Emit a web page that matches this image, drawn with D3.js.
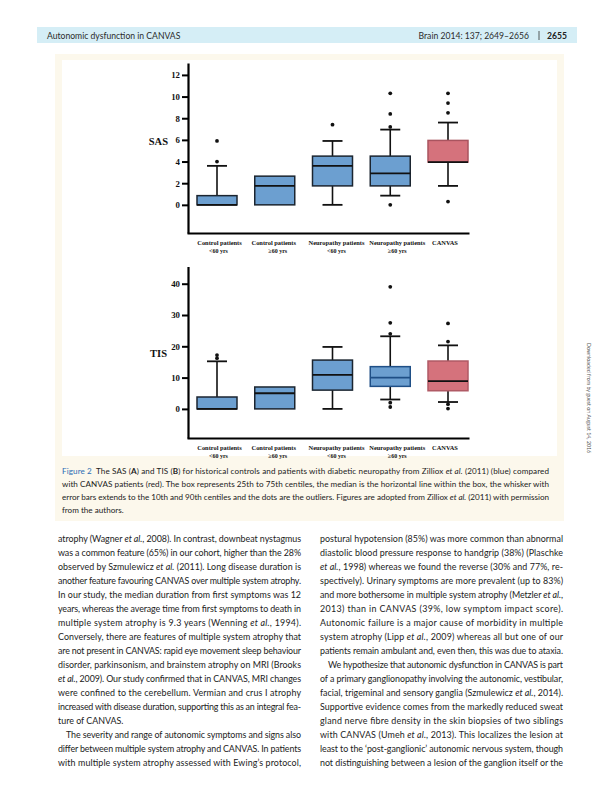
<!DOCTYPE html>
<html>
<head>
<meta charset="utf-8">
<script src="https://cdn.jsdelivr.net/npm/d3@7"></script>
<style>
  body { margin: 0; background: #fff; }
  svg { display: block; }
</style>
</head>
<body>
<script>
// data
//=======================
var groupLine1 = ["Control patients", "Control patients", "Neuropathy patients", "Neuropathy patients", "CANVAS"];
var groupLine2 = ["<60 yrs", "\u226560 yrs", "<60 yrs", "\u226560 yrs", ""];
var groupKind = ["ctrl", "ctrl", "neuro", "neuro", "canvas"];

// panel A: SAS
var sasQ1 = [0, 0, 1.75, 1.75, 3.95];
var sasMedian = [0, 1.75, 3.6, 2.9, 3.95];
var sasQ3 = [0.85, 2.65, 4.5, 4.5, 5.95];
var sasLow = [0, 0, 0, 0.85, 1.75];
var sasHigh = [3.6, 2.65, 5.9, 6.95, 7.6];
var sasOutliers = [[4.0, 5.9], [], [7.4], [0, 7.2, 8.4, 10.3], [0.3, 8.5, 9.4, 10.3]];
var sasTicks = [0, 2, 4, 6, 8, 10, 12];

// panel B: TIS
var tisQ1 = [0, 0, 6, 7.2, 5.8];
var tisMedian = [0, 5, 10.9, 10, 8.9];
var tisQ3 = [3.8, 7, 15.6, 13.5, 15.3];
var tisLow = [0, 0, 0, 3, 2.2];
var tisHigh = [15.2, 7, 19.8, 23.2, 20.3];
var tisOutliers = [[16.2, 17.2], [], [], [0.6, 2.0, 24, 27.5, 39], [0.1, 1.5, 21.5, 27.3]];
var tisTicks = [0, 10, 20, 30, 40];

// page text
var leftLines = [
  "atrophy (Wagner *et al.*, 2008). In contrast, downbeat nystagmus",
  "was a common feature (65%) in our cohort, higher than the 28%",
  "observed by Szmulewicz *et al.* (2011). Long disease duration is",
  "another feature favouring CANVAS over multiple system atrophy.",
  "In our study, the median duration from first symptoms was 12",
  "years, whereas the average time from first symptoms to death in",
  "multiple system atrophy is 9.3 years (Wenning *et al.*, 1994).",
  "Conversely, there are features of multiple system atrophy that",
  "are not present in CANVAS: rapid eye movement sleep behaviour",
  "disorder, parkinsonism, and brainstem atrophy on MRI (Brooks",
  "*et al.*, 2009). Our study confirmed that in CANVAS, MRI changes",
  "were confined to the cerebellum. Vermian and crus I atrophy",
  "increased with disease duration, supporting this as an integral fea-",
  "ture of CANVAS.",
  ">The severity and range of autonomic symptoms and signs also",
  "differ between multiple system atrophy and CANVAS. In patients",
  "with multiple system atrophy assessed with Ewing\u2019s protocol,"
];
var rightLines = [
  "postural hypotension (85%) was more common than abnormal",
  "diastolic blood pressure response to handgrip (38%) (Plaschke",
  "*et al.*, 1998) whereas we found the reverse (30% and 77%, re-",
  "spectively). Urinary symptoms are more prevalent (up to 83%)",
  "and more bothersome in multiple system atrophy (Metzler *et al.*,",
  "2013) than in CANVAS (39%, low symptom impact score).",
  "Autonomic failure is a major cause of morbidity in multiple",
  "system atrophy (Lipp *et al.*, 2009) whereas all but one of our",
  "patients remain ambulant and, even then, this was due to ataxia.",
  ">We hypothesize that autonomic dysfunction in CANVAS is part",
  "of a primary ganglionopathy involving the autonomic, vestibular,",
  "facial, trigeminal and sensory ganglia (Szmulewicz *et al.*, 2014).",
  "Supportive evidence comes from the markedly reduced sweat",
  "gland nerve fibre density in the skin biopsies of two siblings",
  "with CANVAS (Umeh *et al.*, 2013). This localizes the lesion at",
  "least to the \u2018post-ganglionic\u2019 autonomic nervous system, though",
  "not distinguishing between a lesion of the ganglion itself or the"
];
var captionLines = [
  "{Figure 2}\u2002The SAS (**A**) and TIS (**B**) for historical controls and patients with diabetic neuropathy from Zilliox *et al.* (2011) (blue) compared",
  "with CANVAS patients (red). The box represents 25th to 75th centiles, the median is the horizontal line within the box, the whisker with",
  "error bars extends to the 10th and 90th centiles and the dots are the outliers. Figures are adopted from Zilliox *et al.* (2011) with permission",
  "from the authors."
];

// setup SVG area
//=======================
var svgWidth = 613, svgHeight = 791;
var svg = d3.select("body").append("svg")
    .attr("width", svgWidth)
    .attr("height", svgHeight);

var sans = "Lato, 'Open Sans', sans-serif";
var serif = "'Liberation Serif', 'Times New Roman', serif";

// running header
svg.append("rect").attr("x", 37).attr("y", 27).attr("width", 540).attr("height", 16).attr("fill", "#d5eef6");
svg.append("text").attr("x", 47).attr("y", 38.5).attr("font-family", sans).attr("font-size", 8.6)
    .attr("fill", "#2b2b2b").text("Autonomic dysfunction in CANVAS");
svg.append("text").attr("x", 529).attr("y", 38.5).attr("text-anchor", "end").attr("font-family", sans)
    .attr("font-size", 8.6).attr("fill", "#2b2b2b").text("Brain 2014: 137; 2649\u20132656");
svg.append("line").attr("x1", 539).attr("x2", 539).attr("y1", 31).attr("y2", 40).attr("stroke", "#333").attr("stroke-width", 0.8);
svg.append("text").attr("x", 567).attr("y", 38.5).attr("text-anchor", "end").attr("font-family", sans)
    .attr("font-size", 8.6).attr("font-weight", "bold").attr("fill", "#222").text("2655");

// figure panel
svg.append("rect").attr("x", 55).attr("y", 54).attr("width", 509).attr("height", 467).attr("fill", "#fcf8ec");
svg.append("rect").attr("x", 62).attr("y", 60).attr("width", 495).attr("height", 396).attr("fill", "#fff");

// side stamp
svg.append("text").attr("transform", "translate(587,343) rotate(90)")
    .attr("font-family", sans).attr("font-size", 5.3).attr("fill", "#555")
    .text("Downloaded from by guest on August 14, 2016");

// box plot panels
//=======================
var fills = { ctrl: "#6c9fd0", neuro: "#6c9fd0", canvas: "#d5727c" };
// small nudges so the category captions sit like in the original
var labShift1 = [2.5, -1, 4, 7, -3];
var labShift2 = [1.5, 3, 4, 7, 0];

function drawPanel(p) {
  var y = d3.scaleLinear().domain(p.domain).range(p.range);
  var x = d3.scalePoint().domain(d3.range(groupKind.length)).range([217, 448]);
  var boxW = 40, capW = 20;
  var g = svg.append("g");

  // y axis
  var ya = g.append("g").attr("transform", "translate(188,0)")
      .call(d3.axisLeft(y).tickValues(p.ticks).tickSize(6).tickSizeOuter(0).tickPadding(2));
  ya.select(".domain").attr("stroke-width", 2.2);
  ya.selectAll(".tick line").attr("stroke-width", 2);
  ya.selectAll(".tick text").attr("font-family", serif).attr("font-weight", "bold")
      .attr("font-size", 8.8).attr("fill", "#111");

  // x axis
  var xa = g.append("g").attr("transform", "translate(0," + p.range[0] + ")")
      .call(d3.axisBottom(d3.scaleLinear().range([187, 469])).tickValues([]).tickSizeOuter(0));
  xa.select(".domain").attr("stroke-width", 2.2);

  g.append("text").attr("x", p.labelX).attr("y", p.labelY).attr("text-anchor", "end")
      .attr("font-family", serif).attr("font-weight", "bold").attr("font-size", 10.5)
      .attr("fill", "#111").text(p.label);

  var items = d3.range(groupKind.length);
  var boxes = g.selectAll(".box").data(items).join("g").attr("class", "box");

  // whiskers
  boxes.each(function(i) {
    var b = d3.select(this), cx = x(i);
    var segs = [];
    if (p.high[i] > p.q3[i]) segs.push([p.q3[i], p.high[i]]);
    if (p.low[i] < p.q1[i]) segs.push([p.q1[i], p.low[i]]);
    segs.forEach(function(s) {
      b.append("line").attr("x1", cx).attr("x2", cx).attr("y1", y(s[0])).attr("y2", y(s[1]))
          .attr("stroke", "#111").attr("stroke-width", 1.6);
      b.append("line").attr("x1", cx - capW / 2).attr("x2", cx + capW / 2)
          .attr("y1", y(s[1])).attr("y2", y(s[1])).attr("stroke", "#111").attr("stroke-width", 1.8);
    });
  });

  boxes.append("rect")
      .attr("x", function(i) { return x(i) - boxW / 2; })
      .attr("y", function(i) { return y(p.q3[i]); })
      .attr("width", boxW)
      .attr("height", function(i) { return y(p.q1[i]) - y(p.q3[i]); })
      .attr("fill", function(i) { return fills[groupKind[i]]; })
      .attr("stroke", function(i) { return p.stroke[i]; })
      .attr("stroke-width", 1.5);

  boxes.append("line")
      .attr("x1", function(i) { return x(i) - boxW / 2; })
      .attr("x2", function(i) { return x(i) + boxW / 2; })
      .attr("y1", function(i) { return y(p.median[i]); })
      .attr("y2", function(i) { return y(p.median[i]); })
      .attr("stroke", function(i) { return p.medianStroke[i]; })
      .attr("stroke-width", 1.8);

  boxes.selectAll("circle")
      .data(function(i) { return p.outliers[i].map(function(v) { return { i: i, v: v }; }); })
      .join("circle")
      .attr("cx", function(d) { return x(d.i); })
      .attr("cy", function(d) { return y(d.v); })
      .attr("r", 1.9)
      .attr("fill", "#111");

  // category labels
  var lab = g.selectAll(".cat").data(items).join("text").attr("class", "cat")
      .attr("x", function(i) { return x(i) + labShift1[i]; })
      .attr("y", p.range[0] + 12)
      .attr("text-anchor", "middle")
      .attr("font-family", serif).attr("font-weight", "bold").attr("font-size", 6.4).attr("fill", "#111");
  lab.append("tspan").text(function(i) { return groupLine1[i]; });
  lab.append("tspan").attr("x", function(i) { return x(i) + labShift2[i]; }).attr("dy", 8)
      .attr("font-size", 6)
      .text(function(i) { return groupLine2[i]; });
}

drawPanel({
  label: "SAS", labelX: 168, labelY: 145, domain: [-2.6, 13.1], range: [233, 63], ticks: sasTicks,
  q1: sasQ1, median: sasMedian, q3: sasQ3, low: sasLow, high: sasHigh, outliers: sasOutliers,
  stroke: ["#1b2530", "#1b2530", "#1b2530", "#1b2530", "#a9545f"],
  medianStroke: ["#111", "#111", "#111", "#111", "#111"]
});
drawPanel({
  label: "TIS", labelX: 167, labelY: 357, domain: [-9.3, 45.5], range: [438, 266.5], ticks: tisTicks,
  q1: tisQ1, median: tisMedian, q3: tisQ3, low: tisLow, high: tisHigh, outliers: tisOutliers,
  stroke: ["#1b2530", "#1b2530", "#1b2530", "#1f4f86", "#b05a65"],
  medianStroke: ["#111", "#111", "#111", "#1f4f86", "#111"]
});

// text blocks
//=======================
function richLine(sel, str, opts) {
  var t = sel.append("text").attr("x", opts.x).attr("y", opts.y)
      .attr("font-family", sans).attr("font-size", opts.size).attr("fill", "#222");
  var indent = 0;
  if (str.charAt(0) === ">") { str = str.slice(1); indent = opts.indent; t.attr("x", opts.x + indent); }
  str.split(/(\*\*[^*]+\*\*|\*[^*]+\*|\{[^}]+\})/).forEach(function(part) {
    if (!part) return;
    var s = t.append("tspan");
    if (part.indexOf("**") === 0) s.attr("font-weight", "bold").text(part.slice(2, -2));
    else if (part.charAt(0) === "*") s.attr("font-style", "italic").text(part.slice(1, -1));
    else if (part.charAt(0) === "{") s.attr("fill", "#2b6db5").text(part.slice(1, -1));
    else s.text(part);
  });
  if (opts.justify) {
    t.attr("textLength", opts.width - indent).attr("lengthAdjust", "spacing");
  }
  return t;
}

captionLines.forEach(function(l, i) {
  richLine(svg, l, { x: 62, y: 474 + i * 13, size: 8.1, width: 487, indent: 0,
    justify: i < captionLines.length - 1 });
});
leftLines.forEach(function(l, i) {
  richLine(svg, l, { x: 58, y: 542 + i * 14, size: 8.9, width: 243, indent: 8,
    justify: i !== 13 });
});
rightLines.forEach(function(l, i) {
  richLine(svg, l, { x: 320, y: 542 + i * 14, size: 8.9, width: 243, indent: 8,
    justify: true });
});
</script>
</body>
</html>
